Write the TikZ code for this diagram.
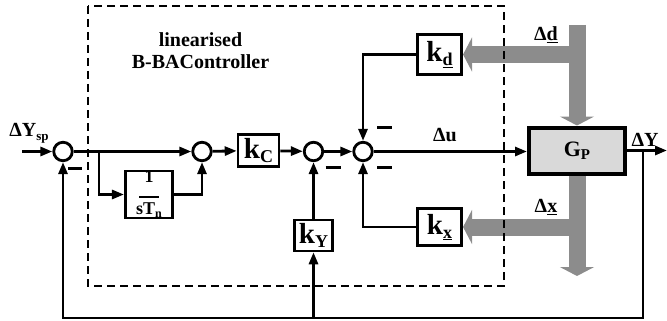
\documentclass[tikz,border=0pt]{standalone}
\usepackage{fontspec}
\setmainfont{Liberation Serif}
\usetikzlibrary{arrows.meta,backgrounds}
\newcommand\fsz[1]{\fontsize{#1}{#1}\selectfont}
\definecolor{gflow}{RGB}{140,140,140}
\definecolor{gpfill}{RGB}{217,217,217}
\begin{document}
\begin{tikzpicture}[x=1pt,y=-1pt,
  sig/.style={line width=2.8pt,-{Triangle[length=12pt,width=9pt]}},
  sumc/.style={circle,draw,line width=2.8pt,fill=white,minimum size=18.5pt,inner sep=0pt},
  blk/.style={draw,line width=2.6pt,fill=white,inner sep=0pt,font=\bfseries},
  txt/.style={inner sep=0pt,font=\bfseries},
  gflowline/.style={draw=gflow,line width=17pt},
  gtip/.style={-{Triangle[length=9pt,width=34pt]}},
  minusbar/.style={line width=3pt},
  framebox/.style={line width=1.3pt,dash pattern=on 8pt off 5pt}]
\useasboundingbox (0,0) rectangle (667,321);

% summing junctions
\node[sumc] (c1) at (63,151.5) {};
\node[sumc] (c2) at (202,151.5) {};
\node[sumc] (c3) at (313.5,151.5) {};
\node[sumc] (c4) at (363,151.5) {};

% blocks
\node[blk,minimum width=47.5pt,minimum height=44.5pt,align=center,font=\bfseries\fsz{18}] (tn) at (149,194.5)
  {1\\[-3pt]\rule{20pt}{1.6pt}\\[-1pt]sT\raisebox{-3pt}{\fsz{12}n}};
\node[blk,minimum width=41pt,minimum height=32pt] (kC) at (258.5,150.5)
  {\fsz{29}k\raisebox{-4pt}{\fsz{18}C}};
\node[blk,minimum width=38pt,minimum height=31pt] (kY) at (313.5,235.5)
  {\fsz{29}k\raisebox{-4pt}{\fsz{18}Y}};
\node[blk,minimum width=44.5pt,minimum height=40.5pt] (kd) at (439.5,54.5)
  {\fsz{29}k\raisebox{-4pt}{\fsz{18}\underline{d}}};
\node[blk,minimum width=44.5pt,minimum height=37.5pt] (kx) at (439.5,227)
  {\fsz{29}k\raisebox{-4pt}{\fsz{18}\underline{x}}};
\node[blk,fill=gpfill,line width=4pt,minimum width=96pt,minimum height=46pt] (gp) at (577,150.5)
  {\fsz{22}G\raisebox{-3pt}{\fsz{15}P}};

% gray flow arrows
\coordinate (dtop) at (577,25);
\coordinate (xbot) at (577,276);
\begin{pgfonlayer}{background}
\draw[gflowline,gtip] (dtop) -- (gp.north);
\draw[gflowline,gtip] (dtop |- kd.east) -- (kd.east);
\draw[gflowline,gtip] (gp.south) -- (xbot);
\draw[gflowline,gtip] (gp.south |- kx.east) -- (kx.east);
\end{pgfonlayer}

% dashed controller frame
\draw[framebox] (88,6) rectangle (504,286);
\node[txt,align=center,font=\bfseries\fsz{20}] (title) at (200.5,51)
  {linearised\\[2pt]B-BAController};

% signal lines
\coordinate (in) at (22,151.5);
\coordinate (b1) at (99,151.5);
\coordinate (out) at (667,150.5);
\coordinate (b2) at (643,150.5);
\coordinate (fbline) at (0,318);
\draw[sig] (in) -- (c1);
\draw[sig] (c1) -- (c2);
\draw[sig] (b1) |- (tn.west);
\draw[sig] (tn.east) -| (c2.south);
\draw[sig] (c2) -- (kC);
\draw[sig] (kC) -- (c3);
\draw[sig] (c3) -- (c4);
\draw[sig] (kY.north) -- (c3.south);
\draw[sig] (kd.west) -| (c4.north);
\draw[sig] (kx.west) -| (c4.south);
\draw[sig] (c4) -- (c4 -| gp.west);
\draw[sig] (gp.east |- out) -- (out);
\draw[sig] (b2) -- (b2 |- fbline) -| (c1.south);
\draw[sig] (kY.south |- fbline) -- (kY.south);

% minus signs
\draw[minusbar] ([shift={(5,17)}]c1.center) -- ++(14,0);
\draw[minusbar] ([shift={(12,16)}]c3.center) -- ++(15,0);
\draw[minusbar] ([shift={(14,-24)}]c4.center) -- ++(15,0);
\draw[minusbar] ([shift={(14,16)}]c4.center) -- ++(15,0);

% signal labels
\node[txt] (lysp) at (29,133) {\fsz{20}ΔY\raisebox{-4pt}{\fsz{13}sp}};
\node[txt] (ldu) at (445,135) {\fsz{20}Δu};
\node[txt] (ldd) at (546,35) {\fsz{20}Δ\underline{d}};
\node[txt] (ldx) at (546,207) {\fsz{20}Δ\underline{x}};
\node[txt] (ldy) at (645,140) {\fsz{20}ΔY};
\end{tikzpicture}
\end{document}
